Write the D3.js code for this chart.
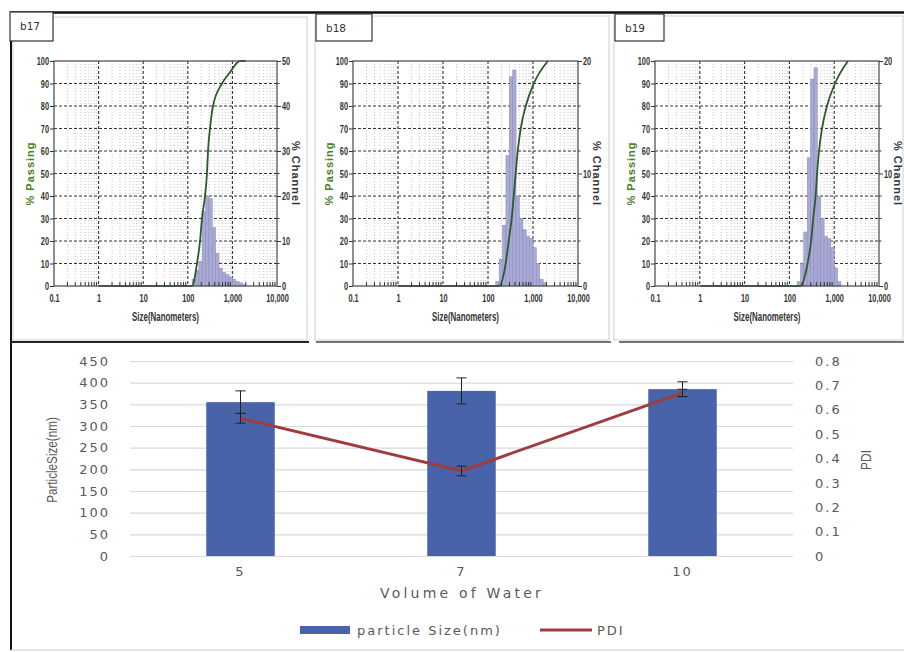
<!DOCTYPE html>
<html><head><meta charset="utf-8">
<script src="https://cdn.jsdelivr.net/npm/d3@7"></script>
<style>body{margin:0;background:#fff;} svg{display:block}</style>
</head><body>
<svg id="c" width="904" height="652"></svg>
<script>
// ---------- data: size distribution panels ----------
const binEdges = [125,149,177,210,250,297,354,420,500,595,707,841,1000,1189,1414,1682,2000];
const b17Channel = [1.5,3.5,5.5,16.5,20,19.5,13,7.3,4,3,2.5,2,1.5,1,0.7,0.3];
const b18Channel = [0,0.4,2.4,5.4,11.6,18.6,19.2,8,6,5,4.4,4.2,3.4,2,0.6,0.3];
const b19Channel = [0,0.4,2,4.8,11.4,18.4,19.4,8,6,4.4,4.2,3.4,1.6,0.4,0,0];
const b17CurveSize = [1,124,161,188,208,243,269,284,315,367,585,883,1480,2000];
const b17CurvePass = [0,0,10,20,30,40,50,60,70,80,90,95,100,100];
const b18CurveSize = [1,175,247,288,336,373,413,458,534,691,1042,2140];
const b18CurvePass = [0,0,10,20,30,40,50,60,70,80,90,100];
const b19CurveSize = [1,172,255,305,340,385,415,458,535,691,1042,2033];
const b19CurvePass = [0,0,10,20,30,40,50,60,70,80,90,100];
const xTickValues = [0.1,1,10,100,1000,10000];
const xTickLabels = ["0.1","1","10","100","1,000","10,000"];
const passingTicks = [0,10,20,30,40,50,60,70,80,90,100];
const b17ChannelTicks = [0,10,20,30,40,50];
const b18ChannelTicks = [0,10,20];
const b19ChannelTicks = [0,10,20];
const panelNames = ["b17","b18","b19"];

// ---------- data: bottom chart ----------
const waterVolumes = ["5","7","10"];
const particleSize = [355,381,385];
const particleSizeErr = [26,30,17];
const pdi = [0.565,0.349,0.669];
const pdiErr = [0.02,0.02,0.015];
const sizeTicks = [0,50,100,150,200,250,300,350,400,450];
const pdiTicks = [0,0.1,0.2,0.3,0.4,0.5,0.6,0.7,0.8];

const svg = d3.select("#c");
const SANS = "'Liberation Sans',Arial,sans-serif";
const WIDE = "'DejaVu Sans',Verdana,sans-serif";

// compress text horizontally (keeps its anchor point)
function squeeze(sel, sx){
  sel.each(function(){
    const t = d3.select(this);
    const tx = +t.attr("x")||0, ty = +t.attr("y")||0;
    t.attr("x",0).attr("y",0).attr("transform",`translate(${tx},${ty}) scale(${sx},1)`);
  });
}

// ---------- frames ----------
svg.append("rect").attr("x",13).attr("y",17).attr("width",294).attr("height",323).attr("fill","none").attr("stroke","#cfcfcf");
svg.append("rect").attr("x",315).attr("y",16).attr("width",294).attr("height",324).attr("fill","none").attr("stroke","#cfcfcf");
svg.append("rect").attr("x",614).attr("y",16).attr("width",289).attr("height",324).attr("fill","none").attr("stroke","#cfcfcf");
svg.append("line").attr("x1",10).attr("x2",904).attr("y1",12.5).attr("y2",12.5).attr("stroke","#111").attr("stroke-width",2.5);
svg.append("line").attr("x1",11).attr("x2",11).attr("y1",12).attr("y2",650).attr("stroke","#111").attr("stroke-width",2);
svg.append("line").attr("x1",10).attr("x2",309).attr("y1",342).attr("y2",342).attr("stroke","#222").attr("stroke-width",2);
svg.append("line").attr("x1",316).attr("x2",611).attr("y1",342).attr("y2",342).attr("stroke","#444").attr("stroke-width",1.5);
svg.append("line").attr("x1",619).attr("x2",904).attr("y1",342).attr("y2",342).attr("stroke","#444").attr("stroke-width",1.5);
svg.append("line").attr("x1",11).attr("x2",904).attr("y1",650).attr("y2",650).attr("stroke","#d0d0d0").attr("stroke-width",1);

const panels = [
  {name:panelNames[0], x0:54, x1:277, box:[10,12,43,29], rmax:50, rticks:b17ChannelTicks, ch:b17Channel, cs:b17CurveSize, cp:b17CurvePass},
  {name:panelNames[1], x0:353, x1:578, box:[316,14,56,27], rmax:20, rticks:b18ChannelTicks, ch:b18Channel, cs:b18CurveSize, cp:b18CurvePass},
  {name:panelNames[2], x0:655, x1:879, box:[615,14,49,27], rmax:20, rticks:b19ChannelTicks, ch:b19Channel, cs:b19CurveSize, cp:b19CurvePass}
];
const pTop = 61, pBot = 286;

panels.forEach(p => {
  const g = svg.append("g");
  const x = d3.scaleLog().domain([0.1,10000]).range([p.x0,p.x1]);
  const yL = d3.scaleLinear().domain([0,100]).range([pBot,pTop]);
  const yR = d3.scaleLinear().domain([0,p.rmax]).range([pBot,pTop]);
  const minor = x.ticks().filter(v => !xTickValues.some(t => Math.abs(t-v)/t < 1e-6));
  g.selectAll(".mg").data(minor).join("line")
    .attr("x1",d=>x(d)).attr("x2",d=>x(d)).attr("y1",pTop).attr("y2",pBot)
    .attr("stroke","#bdbdbd").attr("stroke-width",0.8).attr("stroke-dasharray","1,2");
  g.selectAll(".hg").data(passingTicks.slice(1,-1)).join("line")
    .attr("x1",p.x0).attr("x2",p.x1).attr("y1",d=>yL(d)).attr("y2",d=>yL(d))
    .attr("stroke","#333").attr("stroke-width",1.1).attr("stroke-dasharray","3,2");
  g.selectAll(".vg").data(xTickValues.slice(1,-1)).join("line")
    .attr("x1",d=>x(d)).attr("x2",d=>x(d)).attr("y1",pTop).attr("y2",pBot)
    .attr("stroke","#333").attr("stroke-width",1.1).attr("stroke-dasharray","3,2");
  g.selectAll(".bar").data(p.ch).join("rect")
    .attr("x",(d,i)=>x(binEdges[i])).attr("width",(d,i)=>x(binEdges[i+1])-x(binEdges[i]))
    .attr("y",d=>yR(d)).attr("height",d=>pBot-yR(d))
    .attr("fill","#a9a9d6").attr("stroke","#8a8abb").attr("stroke-width",0.5);
  const pts = p.cs.map((s,i)=>({s:s,v:p.cp[i]}));
  g.append("path").datum(pts)
    .attr("d", d3.line().x(d=>x(d.s)).y(d=>yL(d.v)).curve(d3.curveMonotoneX))
    .attr("fill","none").attr("stroke","#2c5a2c").attr("stroke-width",1.8);
  g.append("rect").attr("x",p.x0).attr("y",pTop).attr("width",p.x1-p.x0).attr("height",pBot-pTop)
    .attr("fill","none").attr("stroke","#555").attr("stroke-width",1.3);
  g.selectAll(".mt").data(minor).join("line")
    .attr("x1",d=>x(d)).attr("x2",d=>x(d)).attr("y1",pBot).attr("y2",pBot-4)
    .attr("stroke","#333").attr("stroke-width",1);
  const ax = g.append("g").attr("transform",`translate(0,${pBot})`)
    .call(d3.axisBottom(x).tickValues(xTickValues).tickFormat((d,i)=>xTickLabels[i]).tickSize(0).tickPadding(8));
  const ayl = g.append("g").attr("transform",`translate(${p.x0},0)`)
    .call(d3.axisLeft(yL).tickValues(passingTicks).tickSize(4).tickPadding(1));
  const ayr = g.append("g").attr("transform",`translate(${p.x1},0)`)
    .call(d3.axisRight(yR).tickValues(p.rticks).tickSize(4).tickPadding(1));
  [ax,ayl,ayr].forEach(a=>{
    a.select(".domain").remove();
    a.selectAll("line").attr("stroke","#333");
    a.selectAll("text").attr("font-family",SANS).attr("font-size",11.5).attr("font-weight","bold").attr("fill","#333");
    squeeze(a.selectAll("text"), 0.64);
  });
  const rMinor = d3.range(0,p.rmax+0.001,p.rmax/10).filter(v=>!p.rticks.includes(v));
  g.selectAll(".rm").data(rMinor).join("line")
    .attr("x1",p.x1).attr("x2",p.x1+2.5).attr("y1",d=>yR(d)).attr("y2",d=>yR(d)).attr("stroke","#333");
  const xt = g.append("text").attr("x",(p.x0+p.x1)/2).attr("y",321).attr("text-anchor","middle")
    .attr("font-family",SANS).attr("font-size",12).attr("font-weight","bold").attr("fill","#333")
    .text("Size(Nanometers)");
  squeeze(xt, 0.66);
  g.append("text").attr("transform",`translate(${p.x0-20},${(pTop+pBot)/2}) rotate(-90)`)
    .attr("text-anchor","middle").attr("font-family",SANS).attr("font-size",11).attr("font-weight","bold")
    .attr("fill","#4a7f22").attr("letter-spacing","1").text("% Passing");
  g.append("text").attr("transform",`translate(${p.x1+15},${(pTop+pBot)/2}) rotate(90)`)
    .attr("text-anchor","middle").attr("font-family",SANS).attr("font-size",11).attr("font-weight","bold")
    .attr("fill","#333").attr("letter-spacing","1").text("% Channel");
  g.append("rect").attr("x",p.box[0]).attr("y",p.box[1]).attr("width",p.box[2]).attr("height",p.box[3])
    .attr("fill","#fff").attr("stroke","#333").attr("stroke-width",1.2);
  g.append("text").attr("x",p.box[0]+10).attr("y",p.box[1]+18)
    .attr("font-family",WIDE).attr("font-size",10.5).attr("fill","#333").text(p.name);
});

// ---------- bottom chart ----------
const L = 130, R = 793, T = 361, B = 556;
const xb = d3.scaleBand().domain(waterVolumes).range([L,R]).padding(0);
const yS = d3.scaleLinear().domain([0,450]).range([B,T]);
const yP = d3.scaleLinear().domain([0,0.8]).range([B,T]);
const bg = svg.append("g");
const grid = bg.append("g").attr("transform",`translate(${L},0)`)
  .call(d3.axisLeft(yS).tickValues(sizeTicks).tickSize(-(R-L)).tickFormat(""));
grid.select(".domain").remove();
grid.selectAll("line").attr("stroke","#d9d9d9").attr("stroke-width",1.2);

const bw = xb.bandwidth()*0.31;
bg.selectAll(".pb").data(particleSize).join("rect")
  .attr("x",(d,i)=>xb(waterVolumes[i])+xb.bandwidth()/2-bw/2).attr("width",bw)
  .attr("y",d=>yS(d)).attr("height",d=>B-yS(d)).attr("fill","#4863a9");

function errBars(vals, errs, scale){
  vals.forEach((v,i)=>{
    const cx = xb(waterVolumes[i])+xb.bandwidth()/2;
    const y1 = scale(v+errs[i]), y2 = scale(v-errs[i]);
    bg.append("line").attr("x1",cx).attr("x2",cx).attr("y1",y1).attr("y2",y2).attr("stroke","#222").attr("stroke-width",1);
    [y1,y2].forEach(y=>bg.append("line").attr("x1",cx-5).attr("x2",cx+5).attr("y1",y).attr("y2",y).attr("stroke","#222").attr("stroke-width",1));
  });
}
errBars(particleSize, particleSizeErr, yS);

bg.append("path").datum(pdi)
  .attr("d", d3.line().x((d,i)=>xb(waterVolumes[i])+xb.bandwidth()/2).y(d=>yP(d)))
  .attr("fill","none").attr("stroke","#a23b3d").attr("stroke-width",3);
errBars(pdi, pdiErr, yP);

const axL = bg.append("g").attr("transform",`translate(${L},0)`)
  .call(d3.axisLeft(yS).tickValues(sizeTicks).tickSize(0).tickPadding(20));
const axR = bg.append("g").attr("transform",`translate(${R},0)`)
  .call(d3.axisRight(yP).tickValues(pdiTicks).tickSize(0).tickPadding(22).tickFormat(d=>d===0?"0":d3.format(".1f")(d)));
const axB = bg.append("g").attr("transform",`translate(0,${B})`)
  .call(d3.axisBottom(xb).tickSize(0).tickPadding(11));
[axL,axR,axB].forEach(a=>{
  a.select(".domain").remove();
  a.selectAll("text").attr("font-family",WIDE).attr("font-size",13).attr("fill","#595959").attr("letter-spacing","2");
});
bg.append("text").attr("x",462).attr("y",598).attr("text-anchor","middle")
  .attr("font-family",WIDE).attr("font-size",14).attr("fill","#595959").attr("letter-spacing","3.2").text("Volume of Water");
bg.append("text").attr("transform",`translate(57,460) rotate(-90) scale(0.78,1)`).attr("text-anchor","middle")
  .attr("font-family",SANS).attr("font-size",15).attr("fill","#595959").text("ParticleSize(nm)");
bg.append("text").attr("transform",`translate(871,460) rotate(-90) scale(0.8,1)`).attr("text-anchor","middle")
  .attr("font-family",SANS).attr("font-size",15).attr("fill","#595959").text("PDI");
// legend
bg.append("rect").attr("x",300).attr("y",626).attr("width",50).attr("height",8).attr("fill","#4863a9");
bg.append("text").attr("x",357).attr("y",635).attr("font-family",WIDE).attr("font-size",13).attr("fill","#595959")
  .attr("letter-spacing","2").text("particle Size(nm)");
bg.append("line").attr("x1",540).attr("x2",592).attr("y1",630).attr("y2",630).attr("stroke","#a23b3d").attr("stroke-width",3);
bg.append("text").attr("x",597).attr("y",635).attr("font-family",WIDE).attr("font-size",13).attr("fill","#595959")
  .attr("letter-spacing","2").text("PDI");
</script>
</body></html>
